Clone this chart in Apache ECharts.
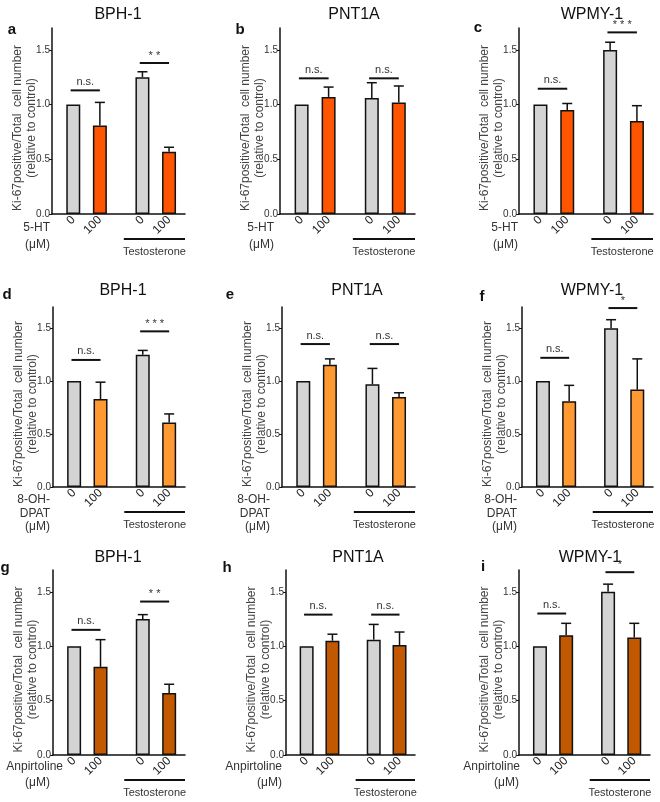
<!DOCTYPE html>
<html>
<head>
<meta charset="utf-8">
<script src="https://cdn.jsdelivr.net/npm/echarts@6/dist/echarts.min.js"></script>
<style>
  html, body { margin: 0; background: #fff; }
  #chart { width: 660px; height: 802px; }
</style>
</head>
<body>
<div id="chart"></div>
<script>
// ---- data ----
const cellLines = ['BPH-1', 'PNT1A', 'WPMY-1'];
const panelLetters = ['a', 'b', 'c', 'd', 'e', 'f', 'g', 'h', 'i'];
const drugLabels = [['5-HT', '(μM)'], ['8-OH-', 'DPAT', '(μM)'], ['Anpirtoline', '(μM)']];
const doseLabels = ['0', '100', '0', '100'];
const barPos = [1, 2, 3.6, 4.6];
const yTicks = [0, 0.5, 1.0, 1.5];
const yName = 'Ki-67positive/Total  cell number\n(relative to control)';
const groupName = 'Testosterone';

// mean per bar (ctrl, drug, T ctrl, T + drug), panels a..i
const means = [
  [1.0, 0.81, 1.25, 0.57],
  [1.0, 1.07, 1.06, 1.02],
  [1.0, 0.95, 1.50, 0.85],
  [1.0, 0.83, 1.25, 0.61],
  [1.0, 1.155, 0.97, 0.85],
  [1.0, 0.81, 1.50, 0.92],
  [1.0, 0.81, 1.25, 0.57],
  [1.0, 1.05, 1.06, 1.01],
  [1.0, 1.10, 1.50, 1.08]
];
// upper error (SD/SEM)
const errs = [
  [0, 0.21, 0.05, 0.04],
  [0, 0.09, 0.14, 0.15],
  [0, 0.06, 0.07, 0.14],
  [0, 0.16, 0.04, 0.08],
  [0, 0.055, 0.15, 0.04],
  [0, 0.15, 0.08, 0.29],
  [0, 0.25, 0.04, 0.08],
  [0, 0.06, 0.14, 0.12],
  [0, 0.11, 0.07, 0.13]
];
const sigLabels = [
  ['n.s.', '* *'], ['n.s.', 'n.s.'], ['n.s.', '* * *'],
  ['n.s.', '* * *'], ['n.s.', 'n.s.'], ['n.s.', '*'],
  ['n.s.', '* *'], ['n.s.', 'n.s.'], ['n.s.', '*']
];
const sigHeights = [
  [1.13, 1.38], [1.24, 1.24], [1.145, 1.66],
  [1.20, 1.47], [1.35, 1.35], [1.22, 1.69],
  [1.15, 1.41], [1.29, 1.29], [1.30, 1.68]
];

// ---- layout / style ----
const drugColors = ['#ff5500', '#ff9a33', '#c25800'];
const ctrlColor = '#d4d4d4';
const FONT = "'Liberation Sans', Arial, sans-serif";
const gridLeft = [[52, 280, 519], [53, 282, 522], [53, 286, 519]];
const gridRight = [[185, 415, 653], [185, 415, 653], [185, 415, 650]];
const gridTop = [28, 307, 570];
const gridBottom = [214, 487, 755];
const titleX = [[118, 354, 592], [123, 357, 592], [118, 358, 590]];
const titleY = [15, 291, 558];
const letterXY = [[12, 30], [240, 30], [478, 28], [7, 295], [230, 295], [482, 297], [5, 568], [227, 568], [483, 567]];
const drugLabelRight = [
  [[50, 50], [274, 274], [518, 518]],
  [[50, 50, 50], [270, 270, 270], [517, 517, 517]],
  [[63, 50], [282, 282], [520, 519]]
];
const drugLabelY = [[228, 245], [500, 514, 527], [767, 783]];

var chartDom = document.getElementById('chart');
var myChart = echarts.init(chartDom);

var grids = [], xAxes = [], yAxes = [], series = [], graphics = [];

for (let k = 0; k < 9; k++) {
  const row = Math.floor(k / 3), col = k % 3;
  grids.push({
    left: gridLeft[row][col],
    top: gridTop[row],
    width: gridRight[row][col] - gridLeft[row][col],
    height: gridBottom[row] - gridTop[row],
    containLabel: false,
    outerBoundsMode: 'none'
  });
  xAxes.push({
    type: 'value', gridIndex: k, min: 0.2, max: 5.2,
    axisLine: { lineStyle: { color: '#111', width: 1.5 } },
    axisTick: { show: false },
    splitLine: { show: false },
    axisLabel: {
      customValues: barPos,
      rotate: 45, margin: 4,
      fontSize: 12, fontFamily: FONT, color: '#222',
      formatter: function (v) {
        const j = barPos.findIndex(p => Math.abs(p - v) < 1e-6);
        return j >= 0 ? doseLabels[j] : '';
      }
    }
  });
  yAxes.push({
    type: 'value', gridIndex: k, min: 0, max: 1.7,
    axisLine: { show: true, lineStyle: { color: '#111', width: 1.5 } },
    axisTick: { show: true, customValues: yTicks, length: 3, lineStyle: { color: '#111' } },
    splitLine: { show: false },
    axisLabel: {
      customValues: yTicks, margin: 2,
      fontSize: 10, fontFamily: FONT, color: '#333',
      formatter: v => v.toFixed(1)
    },
    name: yName, nameLocation: 'middle', nameGap: 13, nameRotate: 90,
    nameMoveOverlap: false,
    nameTextStyle: { fontSize: 12, lineHeight: 14, fontFamily: FONT, color: '#444', padding: [0, 14, 0, 0] }
  });

  // bars
  series.push({
    type: 'bar', xAxisIndex: k, yAxisIndex: k, barWidth: 14,
    itemStyle: { borderColor: '#111', borderWidth: 1.5 },
    data: barPos.map((x, j) => ({
      value: [x, means[k][j]],
      itemStyle: { color: j % 2 ? drugColors[row] : ctrlColor }
    })),
    z: 2
  });

  // upper error bars
  series.push({
    type: 'custom', xAxisIndex: k, yAxisIndex: k, clip: false, z: 3,
    data: barPos.map((x, j) => [x, means[k][j], errs[k][j]]).filter(d => d[2] > 0),
    renderItem: function (params, api) {
      const p0 = api.coord([api.value(0), api.value(1)]);
      const p1 = api.coord([api.value(0), api.value(1) + api.value(2)]);
      const st = { stroke: '#111', lineWidth: 1.5 };
      return {
        type: 'group',
        children: [
          { type: 'line', shape: { x1: p0[0], y1: p0[1], x2: p1[0], y2: p1[1] }, style: st },
          { type: 'line', shape: { x1: p1[0] - 5, y1: p1[1], x2: p1[0] + 5, y2: p1[1] }, style: st }
        ]
      };
    }
  });

  // significance brackets
  series.push({
    type: 'custom', xAxisIndex: k, yAxisIndex: k, clip: false, z: 5,
    data: [
      [barPos[0] - 0.1, barPos[1], sigHeights[k][0], 0],
      [barPos[2] - 0.1, barPos[3], sigHeights[k][1], 1]
    ],
    renderItem: function (params, api) {
      const a = api.coord([api.value(0), api.value(2)]);
      const b = api.coord([api.value(1), api.value(2)]);
      const label = sigLabels[k][api.value(3)];
      const isStar = label.indexOf('*') >= 0;
      return {
        type: 'group',
        children: [
          { type: 'line', shape: { x1: a[0], y1: a[1], x2: b[0], y2: b[1] }, style: { stroke: '#111', lineWidth: 2 } },
          {
            type: 'text',
            style: {
              x: (a[0] + b[0]) / 2, y: a[1] - (isStar ? 2 : 3),
              text: label, align: 'center', verticalAlign: 'bottom',
              font: '11px ' + FONT, fill: '#333'
            }
          }
        ]
      };
    }
  });

  // Testosterone group line under the axis
  series.push({
    type: 'custom', xAxisIndex: k, yAxisIndex: k, clip: false, z: 3,
    data: [[2.9, 5.2]],
    renderItem: function (params, api) {
      const a = api.coord([api.value(0), 0]);
      const b = api.coord([api.value(1), 0]);
      return {
        type: 'group',
        children: [
          { type: 'line', shape: { x1: a[0], y1: a[1] + 25, x2: b[0], y2: b[1] + 25 }, style: { stroke: '#111', lineWidth: 2 } },
          {
            type: 'text',
            style: {
              x: (a[0] + b[0]) / 2, y: a[1] + 38, text: groupName,
              align: 'center', verticalAlign: 'middle', font: '11px ' + FONT, fill: '#333'
            }
          }
        ]
      };
    }
  });

  // titles, panel letters, treatment labels
  graphics.push({
    type: 'text', x: titleX[row][col], y: titleY[row], z: 1,
    style: { text: cellLines[col], align: 'center', verticalAlign: 'middle', font: '16px ' + FONT, fill: '#111' }
  });
  graphics.push({
    type: 'text', x: letterXY[k][0], y: letterXY[k][1],
    style: { text: panelLetters[k], align: 'center', verticalAlign: 'middle', font: 'bold 15px ' + FONT, fill: '#111' }
  });
  drugLabels[row].forEach((t, i) => {
    graphics.push({
      type: 'text', x: drugLabelRight[row][col][i], y: drugLabelY[row][i],
      style: { text: t, align: 'right', verticalAlign: 'middle', font: '12px ' + FONT, fill: '#333' }
    });
  });
}

var option = {
  animation: false,
  backgroundColor: '#fff',
  grid: grids,
  xAxis: xAxes,
  yAxis: yAxes,
  series: series,
  graphic: graphics
};

myChart.setOption(option);
</script>
</body>
</html>
